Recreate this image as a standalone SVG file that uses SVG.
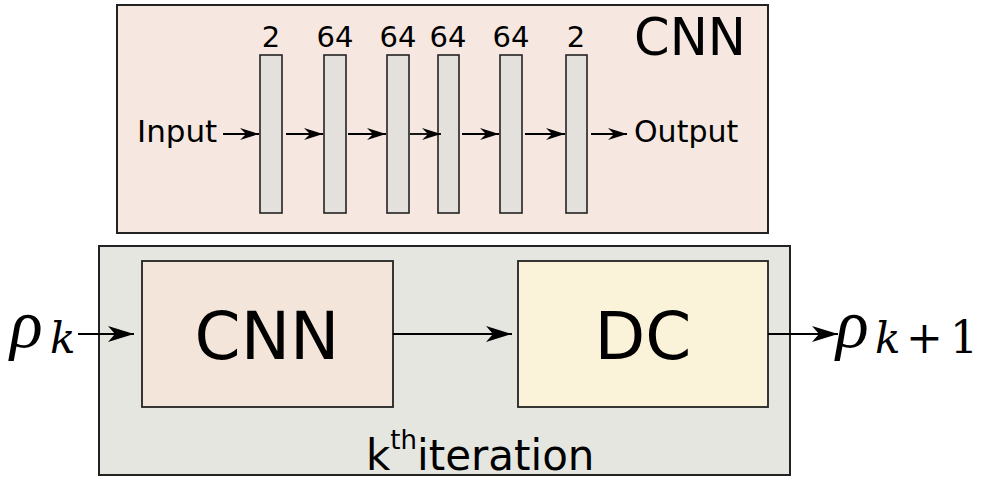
<svg xmlns="http://www.w3.org/2000/svg" width="981" height="481" viewBox="0 0 981 481">
<style>
.lbl{font-family:"DejaVu Sans",Verdana,sans-serif;fill:#000}
.math{font-family:"Liberation Serif","DejaVu Serif",serif;font-style:italic;fill:#000}
.mathk{font-family:"DejaVu Serif","Liberation Serif",serif;font-style:italic;fill:#000}
.mathr{font-family:"DejaVu Serif","Liberation Serif",serif;fill:#000}
.bar{fill:#e4e0db;stroke:#222;stroke-width:1.6}
.conn{stroke:#000;stroke-width:1.8;fill:none;marker-end:url(#ah)}
.connb{stroke:#000;stroke-width:2;fill:none;marker-end:url(#ahb)}
</style>
<defs>
<marker id="ah" viewBox="-19 -7 20 14" refX="0" refY="0" markerWidth="20" markerHeight="14" markerUnits="userSpaceOnUse" orient="auto">
<path d="M0,0 L-19,-6 L-13,0 L-19,6 Z" fill="#000"/>
</marker>
<marker id="ahb" viewBox="-26 -9 27 18" refX="0" refY="0" markerWidth="27" markerHeight="18" markerUnits="userSpaceOnUse" orient="auto">
<path d="M0,0 L-26,-8 L-19,0 L-26,8 Z" fill="#000"/>
</marker>
</defs>
<rect width="981" height="481" fill="#fff"/>
<g id="cnn-detail">
<rect x="117" y="5" width="651" height="228" fill="#f6e8e0" stroke="#222" stroke-width="2"/>
<text class="lbl" x="690" y="55" font-size="51" text-anchor="middle">CNN</text>
<rect class="bar" x="260" y="55" width="22" height="158"/>
<rect class="bar" x="324" y="55" width="22" height="158"/>
<rect class="bar" x="387" y="55" width="22" height="158"/>
<rect class="bar" x="438" y="55" width="21" height="158"/>
<rect class="bar" x="500" y="55" width="22" height="158"/>
<rect class="bar" x="566" y="55" width="21" height="158"/>
<text class="lbl" x="271" y="47" font-size="29" text-anchor="middle">2</text>
<text class="lbl" x="335" y="47" font-size="29" text-anchor="middle">64</text>
<text class="lbl" x="398" y="47" font-size="29" text-anchor="middle">64</text>
<text class="lbl" x="448" y="47" font-size="29" text-anchor="middle">64</text>
<text class="lbl" x="511" y="47" font-size="29" text-anchor="middle">64</text>
<text class="lbl" x="576" y="47" font-size="29" text-anchor="middle">2</text>
<text class="lbl" x="137" y="142" font-size="31">Input</text>
<text class="lbl" x="634" y="142" font-size="30">Output</text>
</g>
<g id="iteration">
<rect x="99" y="246" width="691" height="229" fill="#e6e6e0" stroke="#222" stroke-width="2"/>
<text class="lbl" x="366" y="470" font-size="42">k<tspan font-size="26" dy="-21">th</tspan><tspan dy="21">iteration</tspan></text>
</g>
<g id="cnn">
<rect x="142" y="261" width="251" height="146" fill="#f3e5da" stroke="#222" stroke-width="1.8"/>
<text class="lbl" x="267" y="359" font-size="66" text-anchor="middle">CNN</text>
</g>
<g id="dc">
<rect x="518" y="261" width="250" height="146" fill="#faf2d9" stroke="#222" stroke-width="1.8"/>
<text class="lbl" x="643" y="359" font-size="66" text-anchor="middle">DC</text>
</g>
<g id="rho-k">
<text class="math" x="10" y="347" font-size="68">ρ</text>
<text class="mathk" x="50" y="353" font-size="42">k</text>
</g>
<g id="rho-k1">
<text class="math" x="836" y="347" font-size="68">ρ</text>
<text class="mathk" x="875" y="353" font-size="42">k</text>
<text class="mathr" x="906" y="353" font-size="44">+</text>
<text class="mathr" x="950" y="353" font-size="44">1</text>
</g>
<g id="connectors">
<line class="conn" x1="223" y1="134" x2="259" y2="134"/>
<line class="conn" x1="286" y1="134" x2="323" y2="134"/>
<line class="conn" x1="348" y1="134" x2="386" y2="134"/>
<line class="conn" x1="410" y1="134" x2="441" y2="134"/>
<line class="conn" x1="462" y1="134" x2="499" y2="134"/>
<line class="conn" x1="525" y1="134" x2="565" y2="134"/>
<line class="conn" x1="591" y1="134" x2="627" y2="134"/>
<line class="connb" x1="78" y1="334" x2="134" y2="334"/>
<line class="connb" x1="393" y1="334" x2="512" y2="334"/>
<line class="connb" x1="768" y1="334" x2="838" y2="334"/>
</g>
</svg>
